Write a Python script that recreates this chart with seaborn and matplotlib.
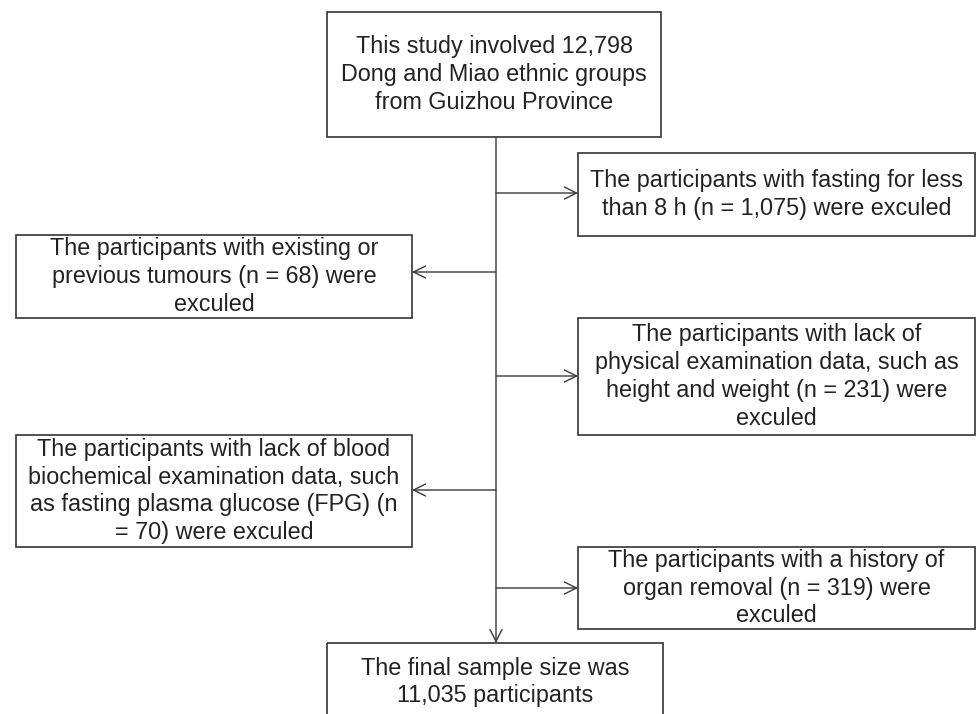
import matplotlib
matplotlib.use("Agg")
import matplotlib.pyplot as plt
import seaborn as sns
from matplotlib.patches import Rectangle

# flow counts
TOTAL = 12798
FINAL = 11035
EXCLUDED_N = [1075, 68, 231, 70, 319]
EXCLUDED_TEXT = [
    "The participants with fasting for less\nthan 8 h (n = {n}) were exculed",
    "The participants with existing or\nprevious tumours (n = {n}) were\nexculed",
    "The participants with lack of\nphysical examination data, such as\nheight and weight (n = {n}) were\nexculed",
    "The participants with lack of blood\nbiochemical examination data, such\nas fasting plasma glucose (FPG) (n\n= {n}) were exculed",
    "The participants with a history of\norgan removal (n = {n}) were\nexculed",
]
TOP_TEXT = "This study involved {n}\nDong and Miao ethnic groups\nfrom Guizhou Province"
FINAL_TEXT = "The final sample size was\n{n} participants"

# layout in pixel coordinates (x0, y0, x1, y1)
TRUNK_X = 496
TOP_BOX = (327, 12, 661, 137)
FINAL_BOX = (327, 643, 663, 730)
EXCL_BOXES = [
    (578, 153, 975, 236),
    (16, 235, 412, 318),
    (578, 318, 975, 435),
    (16, 435, 412, 547),
    (578, 547, 975, 629),
]
EXCL_ARROW_Y = [193, 272, 376, 490, 588]

BOX_EDGE = "#333333"
LINE_COLOR = "#3a3a3a"
TEXT_COLOR = "#222222"
FONT_SIZE = 16.8


def draw_box(ax, box, text, text_y=None):
    x0, y0, x1, y1 = box
    ax.add_patch(Rectangle((x0, y0), x1 - x0, y1 - y0, fill=False,
                           edgecolor=BOX_EDGE, linewidth=1.2, clip_on=True))
    ty = (y0 + y1) / 2 if text_y is None else text_y
    ax.text((x0 + x1) / 2, ty, text, ha="center", va="center",
            fontsize=FONT_SIZE, color=TEXT_COLOR, linespacing=1.26)


def draw_arrow(ax, start, end):
    ax.annotate("", xy=end, xytext=start,
                arrowprops=dict(arrowstyle="->,head_length=0.72,head_width=0.36",
                                color=LINE_COLOR, lw=1.0, shrinkA=0, shrinkB=0))


def main() -> None:
    sns.set_theme(style="white")
    plt.rcParams["font.family"] = ["Liberation Sans", "DejaVu Sans"]

    fig = plt.figure(figsize=(9.77, 7.14), dpi=100)
    ax = fig.add_axes([0, 0, 1, 1])
    ax.set_xlim(0, 977)
    ax.set_ylim(714, 0)
    ax.axis("off")

    draw_box(ax, TOP_BOX, TOP_TEXT.format(n=f"{TOTAL:,}"))
    draw_box(ax, FINAL_BOX, FINAL_TEXT.format(n=f"{FINAL:,}"), text_y=682)

    # main trunk down to the final box
    draw_arrow(ax, (TRUNK_X, TOP_BOX[3]), (TRUNK_X, FINAL_BOX[1]))

    for box, n, label, y in zip(EXCL_BOXES, EXCLUDED_N, EXCLUDED_TEXT, EXCL_ARROW_Y):
        draw_box(ax, box, label.format(n=f"{n:,}"))
        edge_x = box[0] if box[0] > TRUNK_X else box[2]
        draw_arrow(ax, (TRUNK_X, y), (edge_x, y))

    fig.savefig("out.png", dpi=100, facecolor="white")
    plt.close(fig)


if __name__ == "__main__":
    main()
